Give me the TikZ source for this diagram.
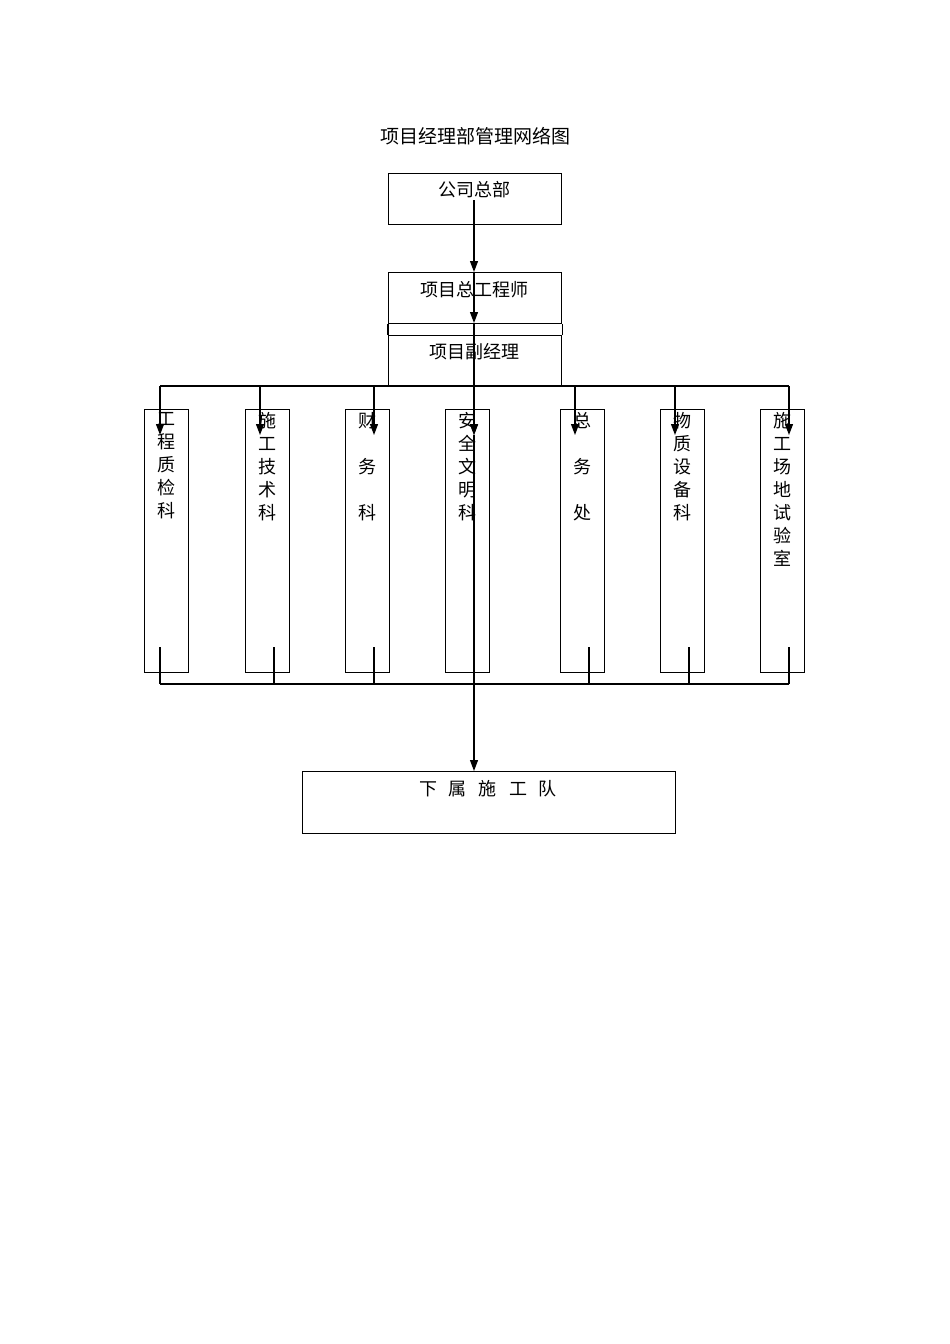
\documentclass[tikz,border=0pt]{standalone}
\usepackage{fontspec}
\setmainfont{Noto Sans CJK SC}
\usetikzlibrary{arrows.meta}
\begin{document}
\begin{tikzpicture}[x=1pt,y=-1pt,line width=1.2pt,
  box/.style={draw,inner sep=0pt,anchor=north west},
  lbl/.style={font=\fontsize{18}{23}\selectfont,inner sep=0pt},
  col/.style={font=\fontsize{18}{23}\selectfont,inner sep=0pt,align=center,anchor=north},
  arr/.style={-{Triangle[length=11pt,width=8pt]}}]
\useasboundingbox[fill=white] (0,0) rectangle (950,1344);
\node[lbl,font=\fontsize{19}{23}\selectfont] (title) at (475,136) {项目经理部管理网络图};
% top boxes
\node[box,minimum width=173pt,minimum height=51pt] (hq) at (388,173) {};
\node[lbl] (hqt) at (474,190) {公司总部};
\node[box,minimum width=173pt,minimum height=51pt] (eng) at (388,272) {};
\node[lbl] (engt) at (474,290) {项目总工程师};
\node[box,minimum width=173pt,minimum height=51pt] (dep) at (388,335) {};
\node[lbl] (dept) at (474,352) {项目副经理};
\draw (eng.south west) -- (dep.north west);
\draw (eng.south east) -- (dep.north east);
% main spine
\coordinate (s0) at (474,200);
\coordinate (s1) at (474,272);
\coordinate (s2) at (474,323);
\draw[arr] (s0) -- (s1);
\draw[arr] (s1) -- (s2);
% columns
\foreach \n/\x/\ax/\bx/\t in {
 1/144/160/160/{工\\程\\质\\检\\科},
 2/245/260/274/{施\\工\\技\\术\\科},
 3/345/374/374/{财\\[4pt]\\[-4pt]务\\[4pt]\\[-4pt]科},
 4/445/474/474/{安\\全\\文\\明\\科},
 5/560/575/589/{总\\[4pt]\\[-4pt]务\\[4pt]\\[-4pt]处},
 6/660/675/689/{物\\质\\设\\备\\科},
 7/760/789/789/{施\\工\\场\\地\\试\\验\\室}}{
  \node[box,minimum width=44pt,minimum height=263pt] (c\n) at (\x,409) {};
  \node[col] (ct\n) at (\x+22,412) {\t};
  \coordinate (ta\n) at (\ax,386);
  \coordinate (tb\n) at (\ax,435);
  \draw[arr] (ta\n) -- (tb\n);
  \coordinate (ba\n) at (\bx,647);
  \coordinate (bb\n) at (\bx,684);
  \draw (ba\n) -- (bb\n);
}
\draw (ta1) -- (ta7);
\draw (bb1) -- (bb7);
\draw[arr] (s2) -- (tb4);
% bottom box
\node[box,minimum width=373pt,minimum height=62pt] (team) at (302,771) {};
\node[lbl] (teamt) at (488,789) {下\hspace{12pt}属\hspace{12pt}施\hspace{12pt}工\hspace{12pt}队};
\draw[arr] (tb4) -- (team.north -| tb4);
\end{tikzpicture}
\end{document}
